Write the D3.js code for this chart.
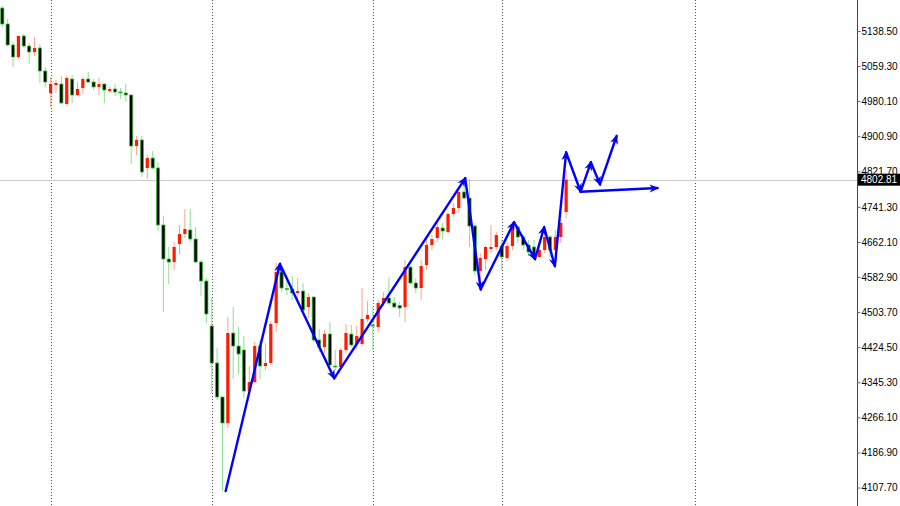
<!DOCTYPE html>
<html>
<head>
<meta charset="utf-8">
<script src="https://cdn.jsdelivr.net/npm/d3@7"></script>
<style>
    html, body { margin: 0; padding: 0; background: #fff; }
    #container { width: 900px; height: 506px; }
    .priceLabel { font-family: "Liberation Sans", Arial, sans-serif; font-size: 10px; }
</style>
</head>
<body>
<div id="container"></div>
<script>
"use strict";

// candle values (one entry per bar, left to right)
const opens = [5190.4, 5154.3, 5106.9, 5079.8, 5127.2, 5104.6, 5091.1, 5100.1, 5048.2, 4998.5,
    5016.6, 5018.8, 4973.7, 5030.1, 4994.0, 5009.8, 5030.1, 5023.3, 5012.1, 5018.8,
    5003.0, 5007.5, 5000.8, 4998.5, 4994.0, 4878.8, 4892.4, 4829.2, 4851.7, 4829.2,
    4700.5, 4623.7, 4616.9, 4657.5, 4680.1, 4689.2, 4668.8, 4616.9, 4574.0, 4472.4,
    4388.9, 4312.1, 4253.4, 4456.6, 4427.2, 4418.2, 4325.6, 4345.9, 4427.2, 4382.1,
    4388.9, 4479.2, 4594.3, 4557.1, 4555.9, 4546.9, 4551.4, 4515.3, 4537.9, 4440.8,
    4425.0, 4454.3, 4382.1, 4379.8, 4418.2, 4454.3, 4431.8, 4431.8, 4488.2, 4474.7,
    4470.1, 4524.3, 4535.6, 4524.3, 4518.7, 4515.3, 4605.6, 4569.5, 4558.2, 4610.1,
    4655.3, 4671.1, 4693.7, 4684.6, 4725.3, 4738.8, 4775.0, 4761.4, 4698.2, 4596.6,
    4623.7, 4646.3, 4650.8, 4653.0, 4625.9, 4653.0, 4695.9, 4673.4, 4655.3, 4650.8,
    4628.2, 4644.0, 4673.4, 4644.0, 4673.4, 4729.8];
const highs = [5195.0, 5165.6, 5113.7, 5129.5, 5131.7, 5111.4, 5125.0, 5109.2, 5057.2, 5034.6,
    5027.9, 5036.9, 5036.9, 5039.2, 5023.3, 5034.6, 5045.9, 5030.1, 5032.4, 5021.1,
    5012.1, 5018.8, 5009.8, 5018.8, 4995.0, 4901.4, 4901.4, 4858.5, 4867.5, 4842.7,
    4720.8, 4650.8, 4662.1, 4700.5, 4736.6, 4736.6, 4695.9, 4621.4, 4580.8, 4535.6,
    4422.7, 4313.0, 4492.7, 4515.3, 4470.1, 4449.8, 4382.1, 4436.3, 4440.8, 4434.0,
    4483.7, 4614.6, 4605.6, 4587.6, 4585.3, 4580.8, 4569.5, 4546.9, 4539.0, 4465.6,
    4463.4, 4481.4, 4418.2, 4422.7, 4476.9, 4474.7, 4472.4, 4558.2, 4528.8, 4515.3,
    4531.1, 4549.2, 4583.0, 4537.9, 4526.6, 4621.4, 4607.9, 4580.8, 4621.4, 4673.4,
    4677.9, 4707.2, 4705.0, 4729.8, 4750.1, 4786.3, 4790.8, 4804.3, 4705.0, 4637.2,
    4653.0, 4700.5, 4684.6, 4666.6, 4662.1, 4707.2, 4700.5, 4677.9, 4666.6, 4666.6,
    4650.8, 4684.6, 4677.9, 4689.2, 4711.7, 4824.6];
const lows = [5147.5, 5104.6, 5057.2, 5075.3, 5100.1, 5064.0, 5082.1, 5021.1, 5012.1, 4966.9,
    4998.5, 4973.7, 4971.4, 4975.9, 4991.7, 4996.3, 5021.1, 5005.3, 4994.0, 4975.9,
    4998.5, 4991.7, 4985.0, 4978.2, 4838.2, 4858.5, 4808.8, 4804.3, 4826.9, 4686.9,
    4504.0, 4567.2, 4598.8, 4635.0, 4671.1, 4662.1, 4614.6, 4540.1, 4479.2, 4321.1,
    4305.3, 4099.8, 4242.1, 4352.7, 4364.0, 4309.8, 4321.1, 4343.7, 4352.7, 4373.0,
    4384.3, 4458.8, 4549.2, 4542.4, 4531.1, 4526.6, 4504.0, 4490.5, 4436.3, 4413.7,
    4411.4, 4379.8, 4373.0, 4375.3, 4411.4, 4425.0, 4420.5, 4427.2, 4481.4, 4418.2,
    4458.8, 4517.6, 4519.8, 4513.0, 4492.7, 4481.4, 4565.0, 4546.9, 4531.1, 4598.8,
    4644.0, 4662.1, 4668.8, 4682.4, 4718.5, 4727.6, 4756.9, 4650.8, 4587.6, 4560.5,
    4598.8, 4637.2, 4644.0, 4598.8, 4619.2, 4644.0, 4659.8, 4644.0, 4630.5, 4621.4,
    4625.9, 4637.2, 4628.2, 4632.7, 4659.8, 4716.3];
const closes = [5154.3, 5106.9, 5079.8, 5127.2, 5104.6, 5091.1, 5100.1, 5048.2, 5023.3, 5018.8,
    5021.1, 4975.9, 5032.4, 4994.0, 5007.5, 5030.1, 5023.3, 5012.1, 5018.8, 5005.3,
    5007.5, 5000.8, 4998.5, 4994.0, 4878.8, 4892.4, 4820.1, 4851.7, 4829.2, 4700.5,
    4623.7, 4616.9, 4650.8, 4680.1, 4691.4, 4668.8, 4616.9, 4574.0, 4499.5, 4388.9,
    4312.1, 4253.4, 4456.6, 4427.2, 4409.2, 4325.6, 4345.9, 4427.2, 4382.1, 4388.9,
    4476.9, 4594.3, 4558.2, 4554.8, 4546.9, 4551.4, 4508.5, 4537.9, 4440.8, 4425.0,
    4454.3, 4384.3, 4379.8, 4418.2, 4456.6, 4429.5, 4449.8, 4488.2, 4497.2, 4472.4,
    4524.3, 4535.6, 4524.3, 4515.3, 4513.0, 4605.6, 4569.5, 4558.2, 4607.9, 4655.3,
    4668.8, 4695.9, 4686.9, 4725.3, 4738.8, 4775.0, 4761.4, 4698.2, 4596.6, 4625.9,
    4650.8, 4650.8, 4677.9, 4628.2, 4653.0, 4695.9, 4673.4, 4655.3, 4639.5, 4630.5,
    4644.0, 4673.4, 4644.0, 4673.4, 4705.0, 4802.81];

// bars where the period separators fall
const separators = [9, 39, 69, 93, 129];

// price scale labels
const priceTicks = [5138.50, 5059.30, 4980.10, 4900.90, 4821.70, 4741.30, 4662.10,
    4582.90, 4503.70, 4424.50, 4345.30, 4266.10, 4186.90, 4107.70];
const lastPrice = 4802.81;

// hand drawn wave (bar position, price)
const waveBars = [41.6, 51.7, 61.8, 86.2, 89.1, 95.3, 99.2, 100.9, 102.9, 105.0, 107.7, 109.6, 111.3, 114.4];
const wavePrices = [4099.8, 4612.4, 4354.3, 4805.9, 4555.3, 4706.5, 4623.7, 4695.3, 4607.9, 4864.2,
    4775.6, 4842.0, 4792.3, 4901.4];
// flat arrow off the last low
const flatBars = [107.7, 122.0];
const flatPrices = [4775.6, 4784.0];

const width = 900, height = 506, axisX = 857;

const svg = d3.select("#container").append("svg")
    .attr("width", width)
    .attr("height", height);

const x = d3.scaleLinear().domain([0, 159.2]).range([2.3, 857.2]);
const y = d3.scaleLinear().domain([4066, 5208.5]).range([height, 0]);

const candles = opens.map((o, i) => ({ i: i, o: o, h: highs[i], l: lows[i], c: closes[i] }));

// separators
svg.append("g")
    .selectAll("line")
    .data(separators)
    .enter().append("line")
        .attr("x1", d => Math.round(x(d)) + 0.5)
        .attr("x2", d => Math.round(x(d)) + 0.5)
        .attr("y1", 0)
        .attr("y2", height)
        .attr("stroke", "#555")
        .attr("stroke-dasharray", "1,2");

// current price line
svg.append("line")
    .attr("x1", 0)
    .attr("x2", axisX)
    .attr("y1", Math.round(y(lastPrice)) + 0.5)
    .attr("y2", Math.round(y(lastPrice)) + 0.5)
    .attr("stroke", "#c8c8c8");

// candles
const bar = svg.append("g").selectAll("g")
    .data(candles)
    .enter().append("g");

bar.append("line")
    .attr("x1", d => x(d.i))
    .attr("x2", d => x(d.i))
    .attr("y1", d => y(d.h))
    .attr("y2", d => y(d.l))
    .attr("stroke", d => d.c >= d.o ? "#f7a58a" : "#8fe08f")
    .attr("stroke-width", 1);

bar.append("rect")
    .attr("x", d => x(d.i) - 1.6)
    .attr("width", 3.2)
    .attr("y", d => y(Math.max(d.o, d.c)))
    .attr("height", d => Math.max(1, Math.abs(y(d.o) - y(d.c))))
    .attr("fill", d => d.c >= d.o ? "#ff1a00" : "#000")
    .attr("stroke", d => d.c >= d.o ? "none" : "#3ec83e")
    .attr("stroke-width", 0.8);

// arrow head
svg.append("defs").append("marker")
    .attr("id", "head")
    .attr("viewBox", "0 0 10 10")
    .attr("refX", 8)
    .attr("refY", 5)
    .attr("markerUnits", "userSpaceOnUse")
    .attr("markerWidth", 11)
    .attr("markerHeight", 10)
    .attr("orient", "auto")
    .append("path")
        .attr("d", "M0,1 L10,5 L0,9 L3,5 Z")
        .attr("fill", "#0000ff");

const segs = d3.range(waveBars.length - 1).map(i => [
    [waveBars[i], wavePrices[i]], [waveBars[i + 1], wavePrices[i + 1]]
]);
segs.push([[flatBars[0], flatPrices[0]], [flatBars[1], flatPrices[1]]]);

svg.append("g")
    .selectAll("line")
    .data(segs)
    .enter().append("line")
        .attr("x1", d => x(d[0][0]))
        .attr("y1", d => y(d[0][1]))
        .attr("x2", d => x(d[1][0]))
        .attr("y2", d => y(d[1][1]))
        .attr("stroke", "#0000ff")
        .attr("stroke-width", 2.4)
        .attr("stroke-linecap", "round")
        .attr("marker-end", "url(#head)");

// price scale on the right
const yAxis = d3.axisRight(y)
    .tickValues(priceTicks)
    .tickFormat(d3.format(".2f"))
    .tickSize(3)
    .tickPadding(1);

const ax = svg.append("g")
    .attr("class", "priceLabel")
    .attr("transform", `translate(${axisX + 0.5}, 0)`)
    .call(yAxis);
ax.select(".domain").attr("stroke", "#444").attr("d", `M0,0V${height}`);
ax.selectAll(".tick line").attr("stroke", "#666");
ax.selectAll(".tick text").attr("fill", "#000").attr("font-family", "Liberation Sans, Arial, sans-serif")
    .attr("font-size", 10);

// last price tag
const tag = svg.append("g")
    .attr("transform", `translate(${axisX + 1}, ${y(lastPrice)})`);
tag.append("rect")
    .attr("x", 0)
    .attr("y", -6)
    .attr("width", 42)
    .attr("height", 12)
    .attr("fill", "#000");
tag.append("text")
    .attr("class", "priceLabel")
    .attr("x", 3)
    .attr("y", 3.5)
    .attr("fill", "#fff")
    .text(d3.format(".2f")(lastPrice));
</script>
</body>
</html>
